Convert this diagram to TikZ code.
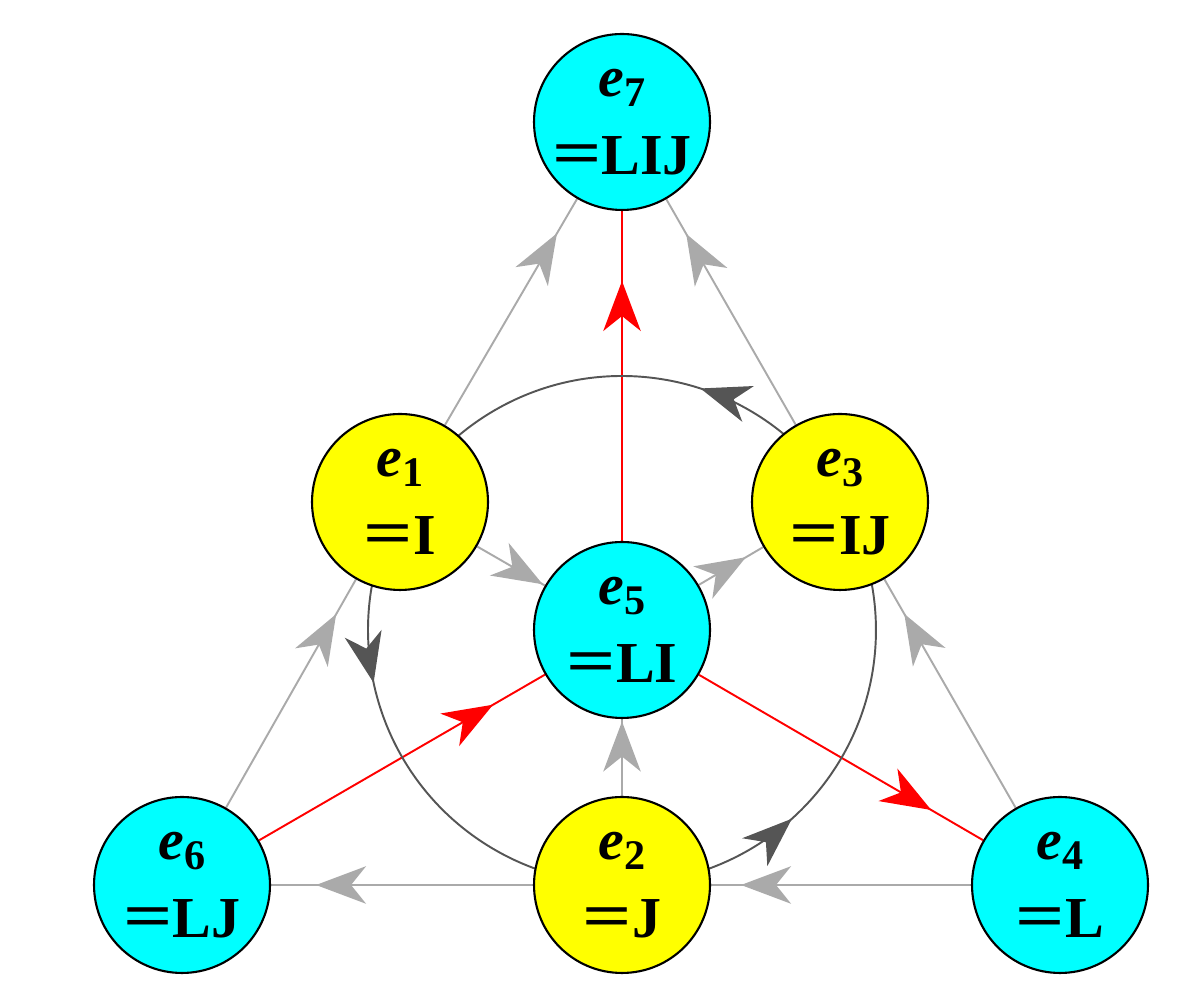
\documentclass[tikz,border=0pt]{standalone}
\usepackage{fontspec}
\setmainfont{Liberation Serif}
\usetikzlibrary{arrows.meta,decorations.markings}
\pgfdeclarelayer{bg}\pgfsetlayers{bg,main}
\definecolor{lg}{RGB}{170,170,170}
\definecolor{dg}{RGB}{85,85,85}
\definecolor{cya}{RGB}{0,255,255}
\definecolor{yel}{RGB}{255,255,0}
\definecolor{rd}{RGB}{255,0,0}
\tikzset{
 x=0.02cm,y=0.02cm,
 nd/.style={circle,draw=black,line width=1.2pt,minimum size=3.52cm,inner sep=0pt,align=center,
   font=\fontsize{33}{44}\selectfont\bfseries},
 cy/.style={nd,fill=cya},
 ye/.style={nd,fill=yel},
 ma/.style={>={Stealth[length=1cm,width=0.75cm,inset=0.3cm]},postaction={decorate,decoration={markings,mark=at position #1 with {\arrow{>}}}}},
 ge/.style={draw=lg,line width=1.1pt,ma=#1},
 re/.style={draw=rd,line width=1.1pt,ma=#1},
 ce/.style={draw=dg,line width=1.1pt,ma=#1},
}
\newcommand{\lab}[2]{\textit{e}\raisebox{-0.35ex}{\fontsize{24}{24}\selectfont #1}\\\scalebox{1.5}[1.1]{=}#2}
\begin{document}
\begin{tikzpicture}
\useasboundingbox (0,0) rectangle (1200,1006);
\node[cy] (e7) at (622,884) {\lab{7}{LIJ}};
\node[ye] (e1) at (400,504) {\lab{1}{I}};
\node[ye] (e3) at (840,504) {\lab{3}{IJ}};
\node[cy] (e5) at (622,376) {\lab{5}{LI}};
\node[cy] (e6) at (182,121) {\lab{6}{LJ}};
\node[ye] (e2) at (622,121) {\lab{2}{J}};
\node[cy] (e4) at (1060,121) {\lab{4}{L}};
\begin{pgfonlayer}{bg}
\draw[ge=-0.8cm] (e1) -- (e7);
\draw[ge=-0.8cm] (e3) -- (e7);
\draw[re=-1.4cm] (e5) -- (e7);
\draw[ge=-0.8cm] (e6) -- (e1);
\draw[ge=-0.8cm] (e4) -- (e3);
\draw[ge=-0.6cm] (e4) -- (e2);
\draw[ge=-0.9cm] (e2) -- (e6);
\draw[ge=-0.05cm] (e2) -- (e5);
\draw[ge=-0.05cm] (e1) -- (e5);
\draw[ge=-0.4cm] (e5) -- (e3);
\draw[re=-1.2cm] (e6) -- (e5);
\draw[re=-1.2cm] (e5) -- (e4);
\draw[ce=0.35] (e5) ++(30:5.08cm) arc[start angle=30,end angle=150,radius=5.08cm];
\draw[ce=0.35] (e5) ++(150:5.08cm) arc[start angle=150,end angle=270,radius=5.08cm];
\draw[ce=0.35] (e5) ++(270:5.08cm) arc[start angle=270,end angle=390,radius=5.08cm];
\end{pgfonlayer}
\end{tikzpicture}
\end{document}
